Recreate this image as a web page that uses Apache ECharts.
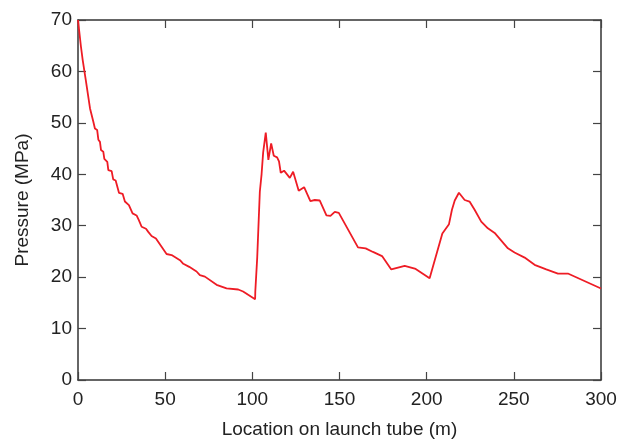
<!DOCTYPE html>
<html>
<head>
<meta charset="utf-8">
<script src="https://cdn.jsdelivr.net/npm/echarts@6/dist/echarts.min.js"></script>
<style>html,body{margin:0;padding:0;background:#fff}#c{width:624px;height:440px}</style>
</head>
<body>
<div id="c"></div>
<script>
const location_m = [0, 1.7, 2.7, 4.6, 6.9, 8.8, 9.7, 11, 11.7, 12.6, 13.2, 14.5, 15.1, 16.8, 17.4, 19.3, 20.2, 21.6, 23.5, 25.6, 26.9, 29.2, 31.3, 33.6, 34.9, 36.5, 39, 40.3, 42.2, 44.7, 50.8, 53.7, 58.5, 60.4, 63.8, 68, 69.9, 72.8, 73.7, 79.5, 85.2, 91.9, 94.7, 101.6, 101.7, 102.4, 102.8, 103.3, 104.3, 105.3, 106.2, 107.7, 109.2, 110.8, 112.3, 114.2, 115.3, 116.3, 118.2, 121.5, 123.4, 126.6, 129.7, 133.3, 135.8, 138.7, 142.5, 144.8, 147.3, 149.6, 160.6, 165, 169.2, 174.4, 179.7, 187.4, 193.7, 201.7, 209, 212.8, 214.5, 216.1, 218.5, 221.8, 224.6, 227.5, 231.3, 235.1, 239, 246.6, 250.4, 256.2, 261.9, 268.6, 275.3, 281, 300];
const pressure_MPa = [70, 64.8, 62.2, 58, 52.8, 50.2, 48.9, 48.6, 46.7, 46.3, 44.7, 44.4, 43, 42.4, 40.8, 40.6, 39, 38.8, 36.4, 36.2, 34.7, 34, 32.4, 32, 31.1, 29.8, 29.4, 28.8, 28, 27.5, 24.5, 24.3, 23.3, 22.6, 22, 21.1, 20.4, 20.1, 19.8, 18.5, 17.8, 17.6, 17.2, 15.7, 17.2, 17.4, 23.8, 24, 36.6, 40, 44.2, 48.1, 42.8, 46, 43.6, 43.3, 42.5, 40.3, 40.7, 39.3, 40.5, 36.8, 37.5, 34.8, 35, 34.9, 32, 31.9, 32.7, 32.5, 25.8, 25.6, 24.9, 24.1, 21.5, 22.2, 21.6, 19.8, 28.5, 30.3, 33.1, 34.9, 36.4, 35, 34.7, 33.1, 30.8, 29.5, 28.6, 25.6, 24.8, 23.8, 22.4, 21.5, 20.7, 20.7, 17.8];
const xTicks = [0, 50, 100, 150, 200, 250, 300];
const yTicks = [0, 10, 20, 30, 40, 50, 60, 70];
const xTitle = 'Location on launch tube (m)';
const yTitle = 'Pressure (MPa)';

const font = 'Liberation Sans, Arial, sans-serif';
const axisCol = '#333333';
function tickStyle() { return {show: true, inside: true, length: 8, lineStyle: {color: '#444', width: 1.2}}; }
function lineStyle() { return {show: true, onZero: false, lineStyle: {color: axisCol, width: 1.5}}; }
const chart = echarts.init(document.getElementById('c'), null, {renderer: 'canvas'});
chart.setOption({
  animation: false,
  grid: {left: 78, right: 23, top: 20, bottom: 60, containLabel: false, outerBoundsMode: 'none'},
  xAxis: [{
    type: 'value', min: xTicks[0], max: xTicks[xTicks.length - 1], interval: 50,
    name: xTitle, nameLocation: 'middle', nameGap: 40,
    nameTextStyle: {fontFamily: font, fontSize: 19, color: '#222'},
    axisLine: lineStyle(),
    axisTick: tickStyle(),
    axisLabel: {fontFamily: font, fontSize: 19, color: '#222', margin: 10},
    splitLine: {show: false}
  }, {
    type: 'value', position: 'top', min: xTicks[0], max: xTicks[xTicks.length - 1], interval: 50,
    axisLine: lineStyle(),
    axisTick: tickStyle(), axisLabel: {show: false}, splitLine: {show: false}
  }],
  yAxis: [{
    type: 'value', min: yTicks[0], max: yTicks[yTicks.length - 1], interval: 10,
    name: yTitle, nameLocation: 'middle', nameGap: 46, nameRotate: 90,
    nameTextStyle: {fontFamily: font, fontSize: 19, color: '#222'},
    axisLine: lineStyle(),
    axisTick: tickStyle(),
    axisLabel: {fontFamily: font, fontSize: 19, color: '#222', margin: 6},
    splitLine: {show: false}
  }, {
    type: 'value', position: 'right', min: yTicks[0], max: yTicks[yTicks.length - 1], interval: 10,
    axisLine: lineStyle(),
    axisTick: tickStyle(), axisLabel: {show: false}, splitLine: {show: false}
  }],
  series: [{
    type: 'line',
    data: location_m.map((x, i) => [x, pressure_MPa[i]]),
    showSymbol: false,
    lineStyle: {color: '#ee1c25', width: 1.8},
    clip: false
  }]
});
</script>
</body>
</html>
